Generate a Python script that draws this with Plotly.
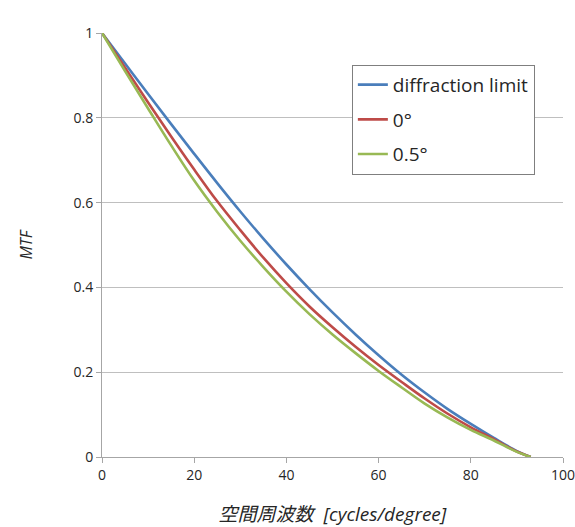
import plotly.graph_objects as go

freq = [0, 5, 10, 15, 20, 25, 30, 35, 40, 45, 50, 55, 60, 65, 70, 75, 80, 85, 90, 93]
mtf_diffraction = [1.0, 0.928, 0.856, 0.785, 0.715, 0.646, 0.579, 0.515, 0.454, 0.396, 0.341,
                   0.289, 0.240, 0.194, 0.152, 0.113, 0.078, 0.045, 0.014, 0.0]
mtf_0deg = [1.0, 0.918, 0.836, 0.756, 0.678, 0.603, 0.535, 0.470, 0.410, 0.355, 0.306,
            0.260, 0.217, 0.177, 0.138, 0.102, 0.070, 0.042, 0.013, 0.0]
mtf_05deg = [1.0, 0.910, 0.822, 0.735, 0.652, 0.578, 0.510, 0.448, 0.390, 0.337, 0.289,
             0.245, 0.203, 0.164, 0.126, 0.093, 0.064, 0.039, 0.012, 0.0]

series_names = ["diffraction limit", "0°", "0.5°"]
series_colors = ["#4A7EBB", "#BE4B48", "#98B954"]
series_values = [mtf_diffraction, mtf_0deg, mtf_05deg]

x_ticks = [0, 20, 40, 60, 80, 100]
y_ticks = [0, 0.2, 0.4, 0.6, 0.8, 1]

font_family = "Open Sans, Noto Sans CJK JP, sans-serif"

fig = go.Figure()
for i, (name, color, vals) in enumerate(zip(series_names, series_colors, series_values)):
    fig.add_trace(go.Scatter(
        x=freq, y=vals, mode="lines", name=name,
        line=dict(color=color, width=2.6, shape="spline", smoothing=1.0),
        legendgroup=str(i),
    ))

fig.update_layout(
    width=575, height=527,
    margin=dict(l=102, r=12, t=33, b=70),
    paper_bgcolor="white", plot_bgcolor="white",
    font=dict(family=font_family, color="#262626", size=14),
    showlegend=True,
    legend=dict(
        x=0.542, y=0.925, xanchor="left", yanchor="top",
        bgcolor="white", bordercolor="#7F7F7F", borderwidth=1,
        font=dict(size=19, family=font_family, color="#262626"),
        tracegroupgap=7, traceorder="grouped",
        itemwidth=30,
    ),
    xaxis=dict(
        range=[0, 100], tickvals=x_ticks, ticks="outside", ticklen=5,
        tickcolor="#A6A6A6", showline=True, linecolor="#A6A6A6", linewidth=1,
        showgrid=False, zeroline=False, automargin=False,
        ticklabeloverflow="allow",
        tickfont=dict(size=14),
        title=dict(text="<i>空間周波数\u00a0\u00a0[cycles/degree]</i>", font=dict(size=19), standoff=24),
    ),
    yaxis=dict(
        range=[0, 1], tickvals=y_ticks, ticks="outside", ticklen=5,
        tickcolor="#A6A6A6", showline=True, linecolor="#A6A6A6", linewidth=1,
        showgrid=True, gridcolor="#BFBFBF", gridwidth=1, zeroline=False, automargin=False,
        ticklabeloverflow="allow",
        tickfont=dict(size=14),
        title=dict(text="<i>MTF</i>", font=dict(size=16), standoff=36),
    ),
)

fig.write_html(
    "out.html",
    config={"displayModeBar": False},
    post_script="document.body.style.margin='0';document.body.style.overflow='hidden';",
)
